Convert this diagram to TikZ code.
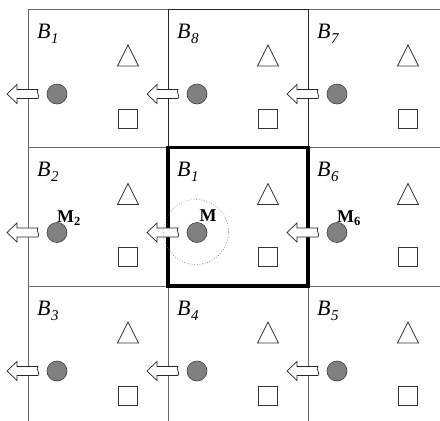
\documentclass[tikz,border=0pt]{standalone}
\usepackage{fontspec}
\setmainfont{Liberation Serif}
\newcommand\blabel[1]{{\fontsize{22}{22}\selectfont\itshape B\kern0.5pt\raisebox{-5pt}{\fontsize{15}{15}\selectfont #1}}}
\newcommand\mlabel[1]{{\fontsize{18}{18}\selectfont\bfseries M\raisebox{-3pt}{\fontsize{12.5}{12.5}\selectfont #1}}}
\definecolor{dotgray}{RGB}{128,128,128}
\definecolor{linegray}{RGB}{105,105,105}
\tikzset{
  gridline/.style={draw=linegray, line width=0.9pt},
  darkbox/.style={draw=black!85, line width=1pt},
  thickbox/.style={draw=black, line width=3.2pt},
  dot/.style={circle, draw=black!75, fill=dotgray, minimum size=20pt, inner sep=0pt, line width=0.6pt},
  sqbox/.style={rectangle, draw=black!80, fill=white, minimum size=19pt, inner sep=0pt, line width=0.7pt},
  tri/.style={draw=black!80, fill=white, line width=0.7pt, line join=miter},
  blockarrow/.style={draw=black!85, fill=white, line width=0.7pt},
  zone/.style={draw=black!60, dotted, line width=0.6pt},
}
\begin{document}
\begin{tikzpicture}[x=1pt,y=-1pt]
\useasboundingbox (0,0) rectangle (440,421);
% grid
\draw[gridline] (28,9) -- (440,9);
\draw[gridline] (28,147.5) -- (440,147.5);
\draw[gridline] (28,286) -- (440,286);
\draw[gridline] (28,9) -- (28,421);
\draw[gridline] (168,9) -- (168,421);
\draw[gridline] (308,9) -- (308,421);
\draw[darkbox] (168,9) rectangle (308,147.5);
\draw[thickbox] (168,147.5) rectangle (308,286);
% cells
\foreach \i/\j/\n in {0/0/1,1/0/8,2/0/7,0/1/2,1/1/1,2/1/6,0/2/3,1/2/4,2/2/5}{
  \pgfmathsetmacro\xo{28+140*\i}
  \pgfmathsetmacro\yo{9+138.5*\j}
  \node[anchor=base west, inner sep=0pt] (b\i\j) at (\xo+9,\yo+29) {\blabel{\n}};
  \draw[tri] (\xo+100,\yo+36) -- (\xo+110.5,\yo+57) -- (\xo+89.5,\yo+57) -- cycle;
  \node[sqbox] (s\i\j) at (\xo+99.5,\yo+109.5) {};
  \node[dot] (c\i\j) at (\xo+29,\yo+85) {};
  \draw[blockarrow] (\xo-21,\yo+85) -- (\xo-11,\yo+75.5) -- (\xo-11,\yo+80.5) -- (\xo+10,\yo+80.5)
     .. controls (\xo+7,\yo+83) and (\xo+13,\yo+87) .. (\xo+10,\yo+89.5)
     -- (\xo-11,\yo+89.5) -- (\xo-11,\yo+94.5) -- cycle;
}
% M labels
\node[anchor=base west, inner sep=0pt] (m2) at (57,222) {\mlabel{2}};
\node[anchor=base west, inner sep=0pt] (m1) at (199.5,221.5) {\mlabel{}};
\node[anchor=base west, inner sep=0pt] (m6) at (337,222) {\mlabel{6}};
% influence zone
\draw[zone] (196,232) circle[radius=32.5];
\end{tikzpicture}
\end{document}
